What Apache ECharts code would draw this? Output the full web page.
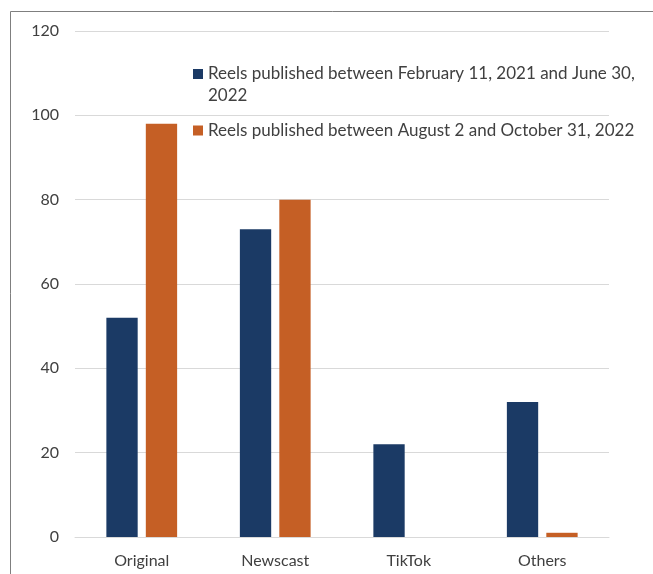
<!DOCTYPE html>
<html>
<head>
<meta charset="utf-8">
<script src="https://cdn.jsdelivr.net/npm/echarts@6/dist/echarts.min.js"></script>
<style>
  html, body { margin: 0; padding: 0; background: #fff; }
  #chart { width: 653px; height: 574px; }
</style>
</head>
<body>
<div id="chart"></div>
<script>
// categories and values
const categories = ['Original', 'Newscast', 'TikTok', 'Others'];
const seriesNames = [
  'Reels published between February 11, 2021 and June 30,\n2022',
  'Reels published between August 2 and October 31, 2022'
];
const firstPeriod = [52, 73, 22, 32];
const secondPeriod = [98, 80, 0, 1];
const yTicks = { min: 0, max: 120, interval: 20 };

const textColor = '#404040';
const fontFamily = 'Lato, "Noto Sans", sans-serif';

let myChart = echarts.init(document.getElementById('chart'));
let option = {
  backgroundColor: '#fff',
  animation: false,
  textStyle: { fontFamily: fontFamily },
  graphic: [{
    type: 'rect',
    shape: { x: 10.5, y: 11.5, width: 700, height: 700 },
    style: { fill: 'none', stroke: '#7f7f7f', lineWidth: 1 },
    silent: true
  }],
  legend: [{
    data: [seriesNames[0]],
    left: 188,
    top: 36,
    itemWidth: 10,
    itemHeight: 10,
    itemGap: 5,
    icon: 'rect',
    // blank first line keeps the square next to the first text line
    formatter: function (name) { return '\n' + name; },
    textStyle: { color: textColor, fontSize: 17, lineHeight: 22, fontFamily: fontFamily }
  }, {
    data: [seriesNames[1]],
    left: 188,
    top: 117,
    itemWidth: 10,
    itemHeight: 10,
    icon: 'rect',
    textStyle: { color: textColor, fontSize: 17, fontFamily: fontFamily }
  }],
  grid: {
    left: 75,
    right: 44,
    top: 31,
    bottom: 37,
    containLabel: false
  },
  xAxis: {
    type: 'category',
    data: categories,
    axisTick: { show: false },
    axisLine: { show: true, lineStyle: { color: '#d9d9d9', width: 1 } },
    axisLabel: { color: textColor, fontSize: 16, margin: 16 }
  },
  yAxis: {
    type: 'value',
    min: yTicks.min,
    max: yTicks.max,
    interval: yTicks.interval,
    axisLine: { show: false },
    axisTick: { show: false },
    axisLabel: { color: textColor, fontSize: 16, margin: 16 },
    splitLine: { lineStyle: { color: '#d9d9d9', width: 1 } }
  },
  series: [{
    name: seriesNames[0],
    type: 'bar',
    data: firstPeriod,
    barGap: '26%',
    barCategoryGap: '47%',
    itemStyle: { color: '#1b3a65' }
  }, {
    name: seriesNames[1],
    type: 'bar',
    data: secondPeriod,
    itemStyle: { color: '#c55f25' }
  }]
};
myChart.setOption(option);
</script>
</body>
</html>
